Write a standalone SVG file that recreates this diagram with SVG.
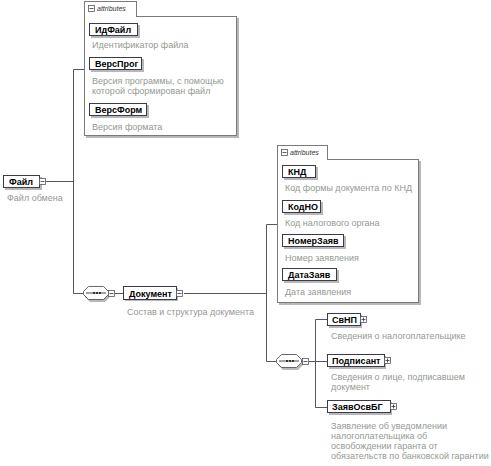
<svg xmlns="http://www.w3.org/2000/svg" width="491" height="466" viewBox="0 0 491 466">
<style>
.bg{fill:#ffffff}
.sh{fill:#b8b8b8}
.nb{fill:#ffffff;stroke:#3a3a4a;stroke-width:1}
.lbl{font-family:"Liberation Sans",Arial,sans-serif;font-size:9px;font-weight:bold;fill:#000}
.desc{font-family:"Liberation Sans",Arial,sans-serif;font-size:9px;fill:#939a93}
.att{fill:#ffffff;stroke:#7a7a7a;stroke-width:1}
.tabt{font-family:"Liberation Sans",Arial,sans-serif;font-size:7px;font-style:italic;fill:#333}
.ln{fill:none;stroke:#555566;stroke-width:1}
.ex{fill:#ffffff;stroke:#555566;stroke-width:0.8}
.exl{stroke:#333;stroke-width:0.8}
</style>
<defs>
<linearGradient id="topg" x1="0" y1="0" x2="1" y2="0">
<stop offset="0" stop-color="#a05a5a"/><stop offset="0.5" stop-color="#b07070"/><stop offset="1" stop-color="#7a7a7a"/>
</linearGradient>
<g id="minus"><rect class="ex" x="0.5" y="0.5" width="6" height="6"/><line class="exl" x1="1.5" y1="3.5" x2="5.5" y2="3.5"/></g>
<g id="plus"><rect class="ex" x="0.5" y="0.5" width="6" height="6"/><line class="exl" x1="1.5" y1="3.5" x2="5.5" y2="3.5"/><line class="exl" x1="3.5" y1="1.5" x2="3.5" y2="5.5"/></g>
<g id="seq">
<path d="M6,2 L21,2 L26,7 L26,11 L21,16 L6,16 L1,11 L1,7 Z" fill="#b8b8b8"/>
<path d="M4.5,0.5 L19.5,0.5 L24.5,5.5 L24.5,8.5 L19.5,13.5 L4.5,13.5 L-0.5,8.5 L-0.5,5.5 Z" fill="#fff" stroke="#555566" stroke-width="0.9"/>
<line x1="2" y1="7" x2="22" y2="7" stroke="#333" stroke-width="0.9"/>
<rect x="9" y="6" width="2" height="2" fill="#333"/><rect x="12" y="6" width="2" height="2" fill="#333"/><rect x="15" y="6" width="2" height="2" fill="#333"/>
</g>
</defs>
<rect class="bg" x="0" y="0" width="491" height="466"/>

<g id="connectors">
<path class="ln" d="M46,181.5 H73.5 M73.5,69.5 V293.5 M73.5,69.5 H84 M73.5,293.5 H84"/>
<path class="ln" d="M115,293.5 H123 M184,293.5 H266.5 M266.5,224.5 V361.5 M266.5,224.5 H277 M266.5,361.5 H277"/>
<path class="ln" d="M309,361.5 H315.5 M315.5,319.5 V407.5 M315.5,319.5 H327 M315.5,361.5 H327 M315.5,407.5 H327"/>
</g>

<g id="node-fail">
<rect class="sh" x="5" y="177" width="37" height="13"/>
<rect class="nb" x="3.5" y="175.5" width="36" height="12"/>
<text class="lbl" x="9" y="185">Файл</text>
<use href="#minus" x="39" y="178"/>
<text class="desc" x="7" y="201">Файл обмена</text>
</g>

<g id="attrs-fail">
<rect class="sh" x="86" y="18" width="153" height="120"/>
<rect class="att" x="84.5" y="16.5" width="152" height="119"/>
<line x1="136.5" y1="16.5" x2="237" y2="16.5" stroke="url(#topg)" stroke-width="1"/>
<rect class="att" x="84.5" y="1.5" width="52" height="15"/>
<rect x="85" y="15" width="51" height="3" fill="#fff"/>
<rect class="ex" x="88.5" y="5.5" width="6" height="6"/><line class="exl" x1="89.5" y1="8.5" x2="93.5" y2="8.5"/>
<text class="tabt" x="97" y="11">attributes</text>
</g>

<g id="attr-idfail">
<rect class="sh" x="91" y="25" width="49" height="13"/>
<rect class="nb" x="89.5" y="23.5" width="48" height="12"/>
<text class="lbl" x="95" y="33">ИдФайл</text>
<text class="desc" x="92" y="48">Идентификатор файла</text>
</g>
<g id="attr-versprog">
<rect class="sh" x="91" y="59" width="53" height="13"/>
<rect class="nb" x="89.5" y="57.5" width="52" height="12"/>
<text class="lbl" x="95" y="67">ВерсПрог</text>
<text class="desc" x="92" y="84">Версия программы, с помощью</text>
<text class="desc" x="92" y="94">которой сформирован файл</text>
</g>
<g id="attr-versform">
<rect class="sh" x="91" y="105" width="58" height="13"/>
<rect class="nb" x="89.5" y="103.5" width="57" height="12"/>
<text class="lbl" x="95" y="113">ВерсФорм</text>
<text class="desc" x="92" y="130">Версия формата</text>
</g>

<g id="seq-1">
<use href="#seq" x="84" y="286"/>
<use href="#minus" x="108" y="290"/>
</g>

<g id="node-dokument">
<rect class="sh" x="125" y="288" width="53" height="13"/>
<rect class="nb" x="123.5" y="286.5" width="53" height="13"/>
<text class="lbl" x="129" y="297">Документ</text>
<use href="#minus" x="176" y="290"/>
<text class="desc" x="127" y="315">Состав и структура документа</text>
</g>

<g id="attrs-dokument">
<rect class="sh" x="279" y="161" width="142" height="144"/>
<rect class="att" x="277.5" y="159.5" width="141" height="143"/>
<rect class="att" x="277.5" y="145.5" width="50" height="14"/>
<rect x="278" y="158" width="49" height="3" fill="#fff"/>
<rect class="ex" x="281.5" y="149.5" width="6" height="6"/><line class="exl" x1="282.5" y1="152.5" x2="286.5" y2="152.5"/>
<text class="tabt" x="290" y="155">attributes</text>
</g>

<g id="attr-knd">
<rect class="sh" x="284" y="167" width="34" height="13"/>
<rect class="nb" x="282.5" y="165.5" width="33" height="12"/>
<text class="lbl" x="288" y="175">КНД</text>
<text class="desc" x="285" y="191">Код формы документа по КНД</text>
</g>
<g id="attr-kodno">
<rect class="sh" x="284" y="202" width="39" height="13"/>
<rect class="nb" x="282.5" y="200.5" width="38" height="12"/>
<text class="lbl" x="288" y="210">КодНО</text>
<text class="desc" x="285" y="226">Код налогового органа</text>
</g>
<g id="attr-nomerzayav">
<rect class="sh" x="284" y="236" width="62" height="13"/>
<rect class="nb" x="282.5" y="234.5" width="61" height="12"/>
<text class="lbl" x="288" y="244">НомерЗаяв</text>
<text class="desc" x="285" y="261">Номер заявления</text>
</g>
<g id="attr-datazayav">
<rect class="sh" x="284" y="270" width="55" height="13"/>
<rect class="nb" x="282.5" y="268.5" width="54" height="12"/>
<text class="lbl" x="288" y="278">ДатаЗаяв</text>
<text class="desc" x="285" y="295">Дата заявления</text>
</g>

<g id="seq-2">
<use href="#seq" x="277" y="354"/>
<use href="#minus" x="302" y="358"/>
</g>

<g id="node-svnp">
<rect class="sh" x="329" y="315" width="33" height="13"/>
<rect class="nb" x="327.5" y="313.5" width="33" height="12"/>
<text class="lbl" x="332" y="323">СвНП</text>
<use href="#plus" x="360" y="316"/>
<text class="desc" x="331" y="339">Сведения о налогоплательщике</text>
</g>
<g id="node-podpisant">
<rect class="sh" x="329" y="356" width="57" height="13"/>
<rect class="nb" x="327.5" y="354.5" width="57" height="12"/>
<text class="lbl" x="332" y="364">Подписант</text>
<use href="#plus" x="384" y="357"/>
<text class="desc" x="331" y="380">Сведения о лице, подписавшем</text>
<text class="desc" x="331" y="390">документ</text>
</g>
<g id="node-zayavosvbg">
<rect class="sh" x="329" y="402" width="63" height="13"/>
<rect class="nb" x="327.5" y="400.5" width="63" height="12"/>
<text class="lbl" x="332" y="410">ЗаявОсвБГ</text>
<use href="#plus" x="390" y="403"/>
<text class="desc" x="331" y="429">Заявление об уведомлении</text>
<text class="desc" x="331" y="439">налогоплательщика об</text>
<text class="desc" x="331" y="449">освобождении гаранта от</text>
<text class="desc" x="331" y="459">обязательств по банковской гарантии</text>
</g>
</svg>
